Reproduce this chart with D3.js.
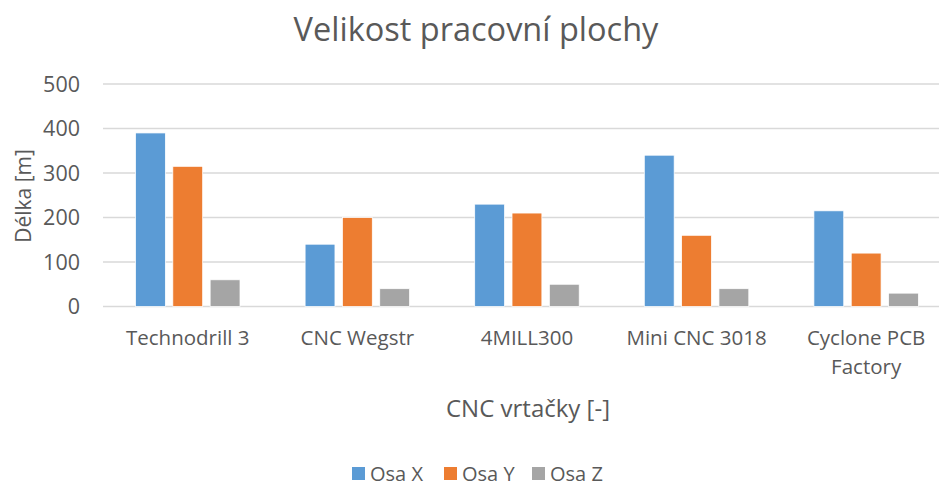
<!DOCTYPE html>
<html>
<head>
<meta charset="utf-8">
<script src="https://cdn.jsdelivr.net/npm/d3@7"></script>
<style>
  body { margin: 0; background: #fff; }
  text { font-family: "Open Sans", Lato, sans-serif; fill: #595959; }
</style>
</head>
<body>
<svg width="939" height="486"></svg>
<script>
// chart data
var categories = ["Technodrill 3", "CNC Wegstr", "4MILL300", "Mini CNC 3018", "Cyclone PCB Factory"];
var seriesNames = ["Osa X", "Osa Y", "Osa Z"];
var osaX = [390, 140, 230, 340, 215];
var osaY = [315, 200, 210, 160, 120];
var osaZ = [60, 40, 50, 40, 30];
var yTicks = [0, 100, 200, 300, 400, 500];
var colors = ["#5b9bd5", "#ed7d31", "#a5a5a5"];

var values = [osaX, osaY, osaZ];
var data = categories.map(function(c, i) {
  return { name: c, vals: seriesNames.map(function(s, j) { return { key: s, value: values[j][i] }; }) };
});

var svg = d3.select("svg");

var x0 = d3.scaleBand().domain(categories).range([103, 951]).padding(0);
var x1 = d3.scaleBand().domain(seriesNames).range([32.5, 137]).paddingInner(0.2);
var y = d3.scaleLinear().domain([0, 500]).range([306.5, 84]);

// grid
svg.append("g").selectAll("line").data(yTicks).enter().append("line")
    .attr("x1", 103).attr("x2", 939)
    .attr("y1", function(d) { return y(d); })
    .attr("y2", function(d) { return y(d); })
    .attr("stroke", "#d9d9d9").attr("stroke-width", 1.5);

// y tick labels
svg.append("g").selectAll("text").data(yTicks).enter().append("text")
    .attr("x", 80).attr("y", function(d) { return y(d); })
    .attr("dy", "0.35em").attr("text-anchor", "end")
    .style("font-size", "21.5px")
    .text(function(d) { return d; });

// bars
var group = svg.append("g").selectAll("g").data(data).enter().append("g")
    .attr("transform", function(d) { return "translate(" + x0(d.name) + ",0)"; });

group.selectAll("rect").data(function(d) { return d.vals; }).enter().append("rect")
    .attr("x", function(d) { return x1(d.key); })
    .attr("width", x1.bandwidth())
    .attr("y", function(d) { return y(d.value); })
    .attr("height", function(d) { return y(0) - y(d.value); })
    .attr("fill", function(d, i) { return colors[i]; })
    .attr("stroke", "#fff").attr("stroke-width", 0.75);

// category labels (last one wraps, centred on its bars)
var catLabel = svg.append("g").selectAll("text").data(categories).enter().append("text")
    .attr("y", 345)
    .attr("text-anchor", "middle")
    .style("font-size", "20.5px");

catLabel.each(function(d) {
  var t = d3.select(this);
  var wrap = d === "Cyclone PCB Factory";
  var lines = wrap ? ["Cyclone PCB", "Factory"] : [d];
  var cx = x0(d) + (x1.range()[0] + x1.range()[1]) / 2;
  lines.forEach(function(l, i) {
    t.append("tspan").attr("x", cx).attr("dy", i === 0 ? 0 : 29).text(l);
  });
});

// title
svg.append("text")
    .attr("x", 476).attr("y", 41)
    .attr("text-anchor", "middle")
    .style("font-size", "32.5px")
    .text("Velikost pracovní plochy");

// axis titles
svg.append("text")
    .attr("transform", "translate(31,196) rotate(-90)")
    .attr("text-anchor", "middle")
    .style("font-size", "21px")
    .text("Délka [m]");

svg.append("text")
    .attr("x", 528).attr("y", 417)
    .attr("text-anchor", "middle")
    .style("font-size", "24px")
    .text("CNC vrtačky [-]");

// legend
var legendX = [352, 444, 532];
var legend = svg.append("g").selectAll("g").data(seriesNames).enter().append("g")
    .attr("transform", function(d, i) { return "translate(" + legendX[i] + ",467)"; });

legend.append("rect")
    .attr("width", 13).attr("height", 13)
    .attr("fill", function(d, i) { return colors[i]; });

legend.append("text")
    .attr("x", 18).attr("y", 6.5).attr("dy", "0.35em")
    .style("font-size", "20px")
    .text(function(d) { return d; });
</script>
</body>
</html>
